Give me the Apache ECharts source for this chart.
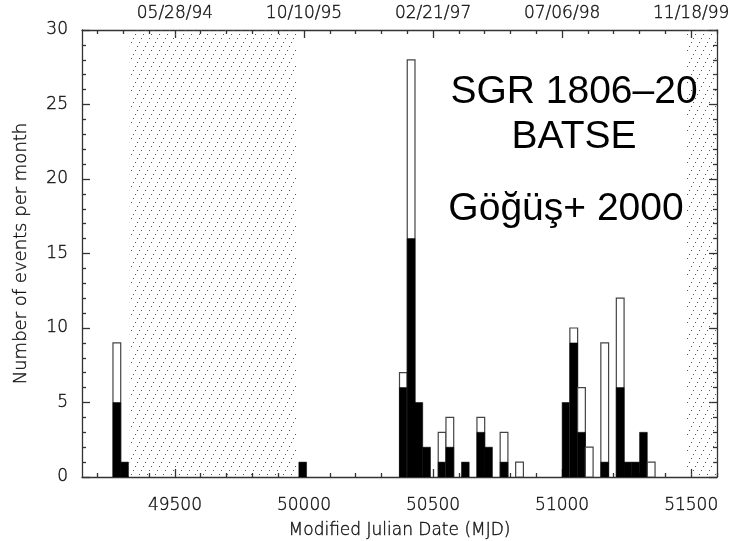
<!DOCTYPE html>
<html><head><meta charset="utf-8">
<script src="https://cdn.jsdelivr.net/npm/echarts@6/dist/echarts.min.js"></script>
<style>html,body{margin:0;padding:0;background:#fff}#c{width:734px;height:541px}</style>
</head><body><div id="c"></div>
<script>
// ---- data ----
const binWidth = 30; // days per bin (one "month")
const binStart = [49260, 49290, 49980, 50370, 50400, 50430, 50460, 50520, 50550, 50610, 50670, 50700, 50760, 50820, 51000, 51030, 51060, 51090, 51150, 51210, 51240, 51270, 51300, 51330];
const blackCounts = [5, 1, 1, 6, 16, 5, 2, 1, 2, 1, 3, 2, 1, 0, 5, 9, 3, 0, 1, 6, 1, 1, 3, 0];
const totalCounts = [9, 1, 1, 7, 28, 5, 2, 3, 4, 1, 4, 2, 3, 1, 5, 10, 6, 2, 9, 12, 1, 1, 3, 1];
const gapStart = [49325, 51480];
const gapEnd = [49972, 51600];
const majorTicks = [49500, 50000, 50500, 51000, 51500];
const dateLabels = ['05/28/94', '10/10/95', '02/21/97', '07/06/98', '11/18/99'];
const minorTicks = [49200, 49300, 49400, 49600, 49700, 49800, 49900, 50100, 50200, 50300, 50400, 50600, 50700, 50800, 50900, 51100, 51200, 51300, 51400, 51600];
const xMin = 49140, xMax = 51600;
const annotation = ['SGR 1806\u201320', 'BATSE', 'G\u00f6\u011f\u00fc\u015f+ 2000'];

// ---- hatch pattern ----
const tile = document.createElement('canvas');
tile.width = 8; tile.height = 16;
const g = tile.getContext('2d');
g.fillStyle = '#555';
[[1, 14], [3, 10], [5, 6], [7, 2]].forEach(([x, y]) => g.fillRect(x, y, 1, 1));

const fontFam = '"DejaVu Sans", sans-serif';
const lblStyle = { color: '#111', fontSize: 17, fontFamily: fontFam, fontWeight: 200,
                   textBorderColor: '#222', textBorderWidth: 0.4 };
const lineStyle = { color: '#333', width: 1.3 };

function xAxisDef(pos, ticks, len, showLabel, showLine) {
  return {
    type: 'value', position: pos, min: xMin, max: xMax,
    splitLine: { show: false },
    axisLine: { show: showLine, lineStyle: lineStyle },
    axisTick: { show: true, inside: true, length: len, customValues: ticks, lineStyle: lineStyle },
    axisLabel: showLabel ? Object.assign({
      show: true, customValues: majorTicks, margin: pos === 'bottom' ? 20 : 8,
      formatter: v => pos === 'bottom' ? String(v) : dateLabels[majorTicks.indexOf(v)]
    }, lblStyle) : { show: false }
  };
}

const chart = echarts.init(document.getElementById('c'), null, { renderer: 'canvas' });
chart.setOption({
  animation: false,
  backgroundColor: '#fff',
  grid: { left: 82, right: 17, top: 30, bottom: 64, containLabel: false, outerBoundsMode: 'none' },
  xAxis: [
    Object.assign(xAxisDef('bottom', majorTicks, 8, true, true), {
      name: 'Modified Julian Date (MJD)', nameLocation: 'middle', nameGap: 45,
      nameTextStyle: Object.assign({}, lblStyle)
    }),
    xAxisDef('bottom', minorTicks, 4, false, false),
    xAxisDef('top', majorTicks, 8, true, true),
    xAxisDef('top', minorTicks, 4, false, false)
  ],
  yAxis: [
    {
      type: 'value', position: 'left', min: 0, max: 30, interval: 5,
      name: 'Number of events per month', nameLocation: 'middle', nameGap: 52,
      nameTextStyle: Object.assign({}, lblStyle, { fontSize: 18 }),
      splitLine: { show: false },
      axisLine: { show: true, lineStyle: lineStyle },
      axisTick: { inside: true, length: 8, lineStyle: lineStyle },
      minorTick: { show: true, splitNumber: 5, length: 4, lineStyle: lineStyle },
      axisLabel: Object.assign({ margin: 14, padding: [6, 0, 0, 0] }, lblStyle)
    },
    {
      type: 'value', position: 'right', min: 0, max: 30, interval: 5,
      splitLine: { show: false },
      axisLine: { show: true, lineStyle: lineStyle },
      axisTick: { inside: true, length: 8, lineStyle: lineStyle },
      minorTick: { show: true, splitNumber: 5, length: 4, lineStyle: lineStyle },
      axisLabel: { show: false }
    }
  ],
  series: [
    {
      type: 'custom', name: 'gaps', z: 1, clip: true,
      data: gapStart.map((s, i) => [s, gapEnd[i]]),
      renderItem: (params, api) => {
        const a = api.coord([api.value(0), 30]);
        const b = api.coord([api.value(1), 0]);
        return { type: 'rect', shape: { x: a[0], y: a[1], width: b[0] - a[0], height: b[1] - a[1] },
                 style: { fill: { image: tile, repeat: 'repeat' }, stroke: null } };
      }
    },
    {
      type: 'custom', name: 'bursts', z: 3, clip: true,
      data: binStart.map((s, i) => [s, blackCounts[i], totalCounts[i]]),
      renderItem: (params, api) => {
        const x0 = api.value(0), bk = api.value(1), tot = api.value(2);
        const p0 = api.coord([x0, 0]);
        const pt = api.coord([x0 + binWidth, tot]);
        const pb = api.coord([x0 + binWidth, bk]);
        const children = [];
        if (tot > bk) children.push({ type: 'rect',
          shape: { x: p0[0], y: pt[1], width: pt[0] - p0[0], height: p0[1] - pt[1] },
          style: { fill: '#fff', stroke: '#444', lineWidth: 1.2 } });
        if (bk > 0) children.push({ type: 'rect',
          shape: { x: p0[0], y: pb[1], width: pb[0] - p0[0], height: p0[1] - pb[1] },
          style: { fill: '#000', stroke: '#000', lineWidth: 0.5 } });
        return { type: 'group', children: children };
      }
    }
  ],
  graphic: annotation.map((t, i) => ({
    type: 'text', x: [574, 574, 566][i], y: [92, 137, 209][i], z: 10,
    style: { text: t, fill: '#000', font: '39px "Liberation Sans", Arial, sans-serif',
             align: 'center', verticalAlign: 'middle' }
  }))
});
</script></body></html>
